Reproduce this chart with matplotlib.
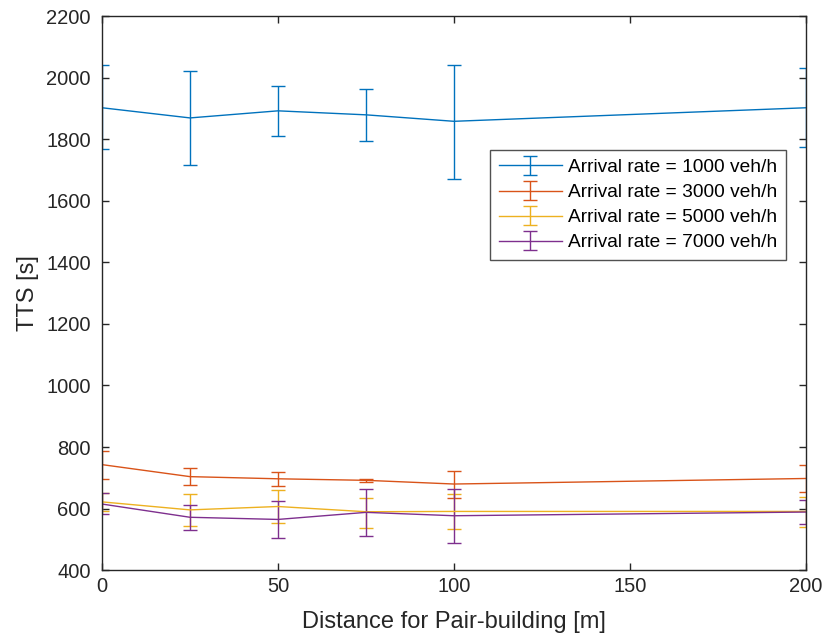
import numpy as np
import matplotlib.pyplot as plt

plt.rcParams['font.family'] = ['Liberation Sans', 'DejaVu Sans']

# pair-building distance [m]
dist = [0, 25, 50, 75, 100, 200]

# mean TTS [s] and error half-widths (lower, upper) per arrival rate
tts_1000 = [1902, 1869, 1892, 1879, 1858, 1902]
lo_1000 = [135, 152, 81, 86, 187, 128]
hi_1000 = [139, 151, 81, 85, 184, 129]

tts_3000 = [743, 704, 697, 692, 680, 698]
lo_3000 = [47, 28, 22, 5, 44, 43]
hi_3000 = [45, 29, 22, 5, 42, 43]

tts_5000 = [622, 596, 607, 590, 591, 591]
lo_5000 = [28, 52, 52, 52, 56, 51]
hi_5000 = [28, 51, 54, 46, 55, 48]

tts_7000 = [615, 572, 565, 588, 577, 589]
lo_7000 = [33, 40, 61, 76, 89, 40]
hi_7000 = [35, 41, 61, 77, 88, 40]

series = [
    (tts_1000, lo_1000, hi_1000, '#0072BD', 'Arrival rate = 1000 veh/h'),
    (tts_3000, lo_3000, hi_3000, '#D95319', 'Arrival rate = 3000 veh/h'),
    (tts_5000, lo_5000, hi_5000, '#EDB120', 'Arrival rate = 5000 veh/h'),
    (tts_7000, lo_7000, hi_7000, '#7E2F8E', 'Arrival rate = 7000 veh/h'),
]

fig = plt.figure(figsize=(8.26, 6.4), dpi=100)
ax = fig.add_axes([0.1235, 0.109, 0.8523, 0.866])

for y, lo, hi, c, lab in series:
    ax.errorbar(dist, y, yerr=[lo, hi], color=c, lw=1.0, elinewidth=1.0,
                capsize=4.7, capthick=1.0, label=lab)

ax.set_xlim(0, 200)
ax.set_ylim(400, 2200)
ax.set_xticks(np.arange(0, 201, 50))
ax.set_yticks(np.arange(400, 2201, 200))
ax.tick_params(direction='in', top=True, right=True, labelsize=14.5,
               length=5, width=1, colors='#262626')
ax.tick_params(axis='y', pad=8)
ax.tick_params(axis='x', pad=5)
for s in ax.spines.values():
    s.set_color('#262626')
    s.set_linewidth(1)

ax.set_xlabel('Distance for Pair-building [m]', fontsize=17, color='#262626',
              labelpad=11)
ax.set_ylabel('TTS [s]', fontsize=17, color='#262626', labelpad=5)

leg = ax.legend(loc='upper left', bbox_to_anchor=(0.551, 0.758), fontsize=13.8,
                frameon=True, fancybox=False, edgecolor='#262626',
                borderpad=0.45, labelspacing=0.4, handlelength=3.3,
                handletextpad=0.35, borderaxespad=0)
leg.get_frame().set_linewidth(1)

fig.savefig('out.png', dpi=100)
